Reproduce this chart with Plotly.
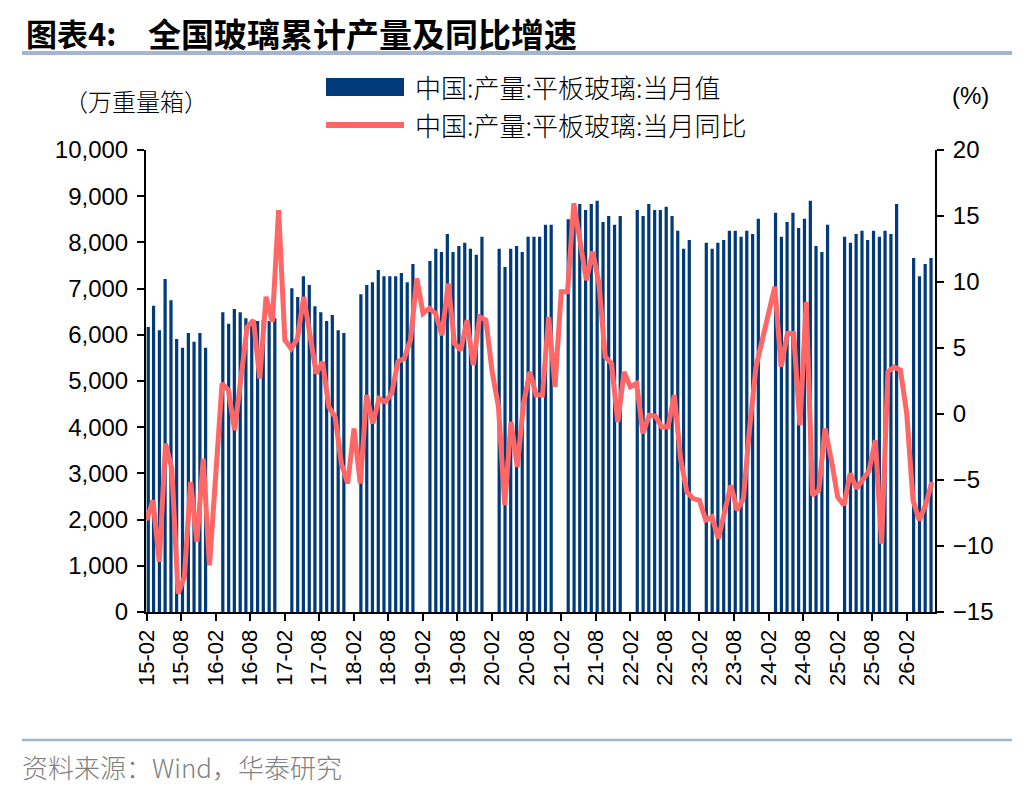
import pandas as pd
import plotly.graph_objects as go

# 中国:产量:平板玻璃:当月值 (万重量箱)
# 2015 has Feb-Dec, 2016-2025 have Mar-Dec, 2026 has Mar-Jun
output_2015 = [6170, 6630, 6100, 7210, 6750, 5910, 5720, 6040, 5850, 6040, 5720]
output_2016 = [6490, 6240, 6560, 6490, 6360, 6320, 6300, 6320, 6300, 6360]
output_2017 = [7010, 6820, 7270, 7080, 6620, 6490, 6300, 6430, 6100, 6040]
output_2018 = [6880, 7080, 7140, 7400, 7270, 7270, 7270, 7340, 7140, 7530]
output_2019 = [7600, 7860, 7790, 8180, 7790, 7920, 7990, 7860, 7730, 8120]
output_2020 = [7860, 7470, 7860, 7920, 7790, 8120, 8120, 8120, 8380, 8380]
output_2021 = [8500, 8840, 8830, 8700, 8830, 8900, 8440, 8570, 8380, 8570]
output_2022 = [8700, 8570, 8830, 8700, 8700, 8770, 8570, 8250, 7860, 8050]
output_2023 = [7990, 7860, 7990, 8050, 8250, 8250, 8120, 8250, 8180, 8510]
output_2024 = [8640, 8120, 8440, 8640, 8310, 8510, 8900, 7920, 7790, 8380]
output_2025 = [8120, 7990, 8180, 8250, 8050, 8250, 8120, 8250, 8180, 8830]
output_2026 = [7660, 7270, 7530, 7660]

# 中国:产量:平板玻璃:当月同比 (%), Feb-Dec each year, 2026 Feb-Jun
yoy_2015 = [-8.05, -6.54, -11.21, -2.24, -4.13, -13.61, -12.35, -5.15, -9.69, -3.38, -11.46]
yoy_2016 = [-4.5, 2.31, 1.80, -1.23, 2.7, 6.61, 7.11, 2.69, 8.88, 6.98, 15.45]
yoy_2017 = [5.60, 4.96, 5.72, 8.88, 5.9, 3.07, 3.95, 0.54, -0.22, -3.76, -5.27]
yoy_2018 = [-1.10, -5.27, 1.43, -0.72, 1.17, 0.92, 1.55, 3.95, 4.21, 5.60, 10.27]
yoy_2019 = [7.62, 8.0, 7.62, 5.97, 9.89, 5.34, 4.84, 7.11, 3.70, 7.36, 7.11]
yoy_2020 = [3.2, 0.54, -6.91, -0.60, -4.01, 0.79, 3.19, 1.43, 1.43, 7.36, 2.06]
yoy_2021 = [9.26, 9.26, 15.96, 13.0, 10.14, 12.3, 9.9, 4.33, 3.83, -0.60, 3.19]
yoy_2022 = [2.06, 2.31, -1.48, -0.09, -0.15, -0.98, -0.98, 1.43, -3.4, -5.9, -6.41]
yoy_2023 = [-6.54, -8.05, -7.80, -9.44, -7.5, -5.40, -7.29, -6.41, -0.98, 3.57, 5.60]
yoy_2024 = [7.62, 9.64, 3.57, 6.10, 6.10, -0.85, 8.50, -6.16, -5.78, -1.10, -3.5]
yoy_2025 = [-6.28, -6.91, -4.51, -5.65, -5.0, -4.3, -1.99, -9.82, 3.19, 3.57, 3.32]
yoy_2026 = [0.04, -6.54, -8.05, -6.9, -5.15]

BAR_COLOR = "#003A7A"
LINE_COLOR = "#FF6666"
RULE_COLOR = "#A3B6CF"
NUM_FONT = "Liberation Sans, Arial, Noto Sans CJK SC"
CJK_FONT = "Noto Sans CJK SC, Liberation Sans"


def months(year, first, last):
    return [f"{year}-{m:02d}" for m in range(first, last + 1)]


bar_months = months(2015, 2, 12)
bar_values = list(output_2015)
yearly_out = [output_2016, output_2017, output_2018, output_2019, output_2020,
              output_2021, output_2022, output_2023, output_2024, output_2025]
for yr, vals in zip(range(2016, 2026), yearly_out):
    bar_months += months(yr, 3, 12)
    bar_values += vals
bar_months += months(2026, 3, 6)
bar_values += output_2026
bar_dates = pd.to_datetime(bar_months) + pd.Timedelta(days=8)

line_months = months(2015, 2, 12)
line_values = list(yoy_2015)
yearly_yoy = [yoy_2016, yoy_2017, yoy_2018, yoy_2019, yoy_2020,
              yoy_2021, yoy_2022, yoy_2023, yoy_2024, yoy_2025]
for yr, vals in zip(range(2016, 2026), yearly_yoy):
    line_months += months(yr, 2, 12)
    line_values += vals
line_months += months(2026, 2, 6)
line_values += yoy_2026

# the page body adds an 8px margin, so the figure is a bit smaller and offset
OFF = 8
W, H = 1036 - 2 * OFF, 792 - 2 * OFF
# plot area in page pixels
L, R, T, B = 146, 935, 150, 612


def px(x):
    return (x - L) / (R - L)


def py(y):
    return (B - y) / (B - T)


fig = go.Figure()
fig.add_trace(go.Bar(x=bar_dates, y=bar_values, marker_color=BAR_COLOR,
                     marker_line_width=0, width=17 * 86400000,
                     name="中国:产量:平板玻璃:当月值"))
fig.add_trace(go.Scatter(x=line_months, y=line_values, mode="lines",
                         line=dict(color=LINE_COLOR, width=5),
                         xaxis="x2", yaxis="y2",
                         name="中国:产量:平板玻璃:当月同比"))

axis_common = dict(showline=True, linecolor="black", linewidth=2,
                   ticks="outside", ticklen=7, tickwidth=2, tickcolor="black",
                   showgrid=False, zeroline=False)

fig.update_layout(
    width=W, height=H,
    margin=dict(l=L - OFF, r=W + OFF - R, t=T - OFF, b=H + OFF - B),
    plot_bgcolor="white", paper_bgcolor="white",
    showlegend=False,
    font=dict(family=NUM_FONT, color="black"),
    xaxis=dict(type="date", range=["2015-01-28", "2026-06-30"],
               tick0="2015-02-01", dtick="M6", tickformat="%y-%m",
               tickangle=-90, tickfont=dict(size=22), **axis_common),
    xaxis2=dict(type="category", overlaying="x", visible=False,
                range=[-0.11, 125.5]),
    yaxis=dict(range=[0, 10000], dtick=1000, tickformat=",d",
               tickfont=dict(size=24), ticklabelstandoff=4, **axis_common),
    yaxis2=dict(range=[-15, 20], dtick=5, overlaying="y", side="right",
                anchor="x", tickfont=dict(size=24), ticklabelstandoff=4,
                **axis_common),
)

shapes = [
    dict(type="line", xref="paper", yref="paper", x0=px(22), x1=px(1012),
         y0=py(53), y1=py(53), line=dict(color=RULE_COLOR, width=4)),
    dict(type="line", xref="paper", yref="paper", x0=px(22), x1=px(1012),
         y0=py(740), y1=py(740), line=dict(color=RULE_COLOR, width=2.5)),
    dict(type="rect", xref="paper", yref="paper", x0=px(326), x1=px(404),
         y0=py(96), y1=py(78), fillcolor=BAR_COLOR, line=dict(width=0)),
    dict(type="line", xref="paper", yref="paper", x0=px(326), x1=px(404),
         y0=py(125), y1=py(125), line=dict(color=LINE_COLOR, width=6)),
]
fig.update_layout(shapes=shapes)


def note(text, x, y, size, anchor="left", color="black", family=CJK_FONT,
         weight=None):
    f = dict(size=size, color=color, family=family)
    if weight:
        f["weight"] = weight
    fig.add_annotation(text=text, x=px(x), y=py(y), xref="paper", yref="paper",
                       xanchor=anchor, yanchor="middle", showarrow=False,
                       font=f)


note("<b>图表4:</b>", 24, 33, 31)
note("<b>全国玻璃累计产量及同比增速</b>", 146, 33, 33)
note("中国:产量:平板玻璃:当月值", 413, 87, 26, weight=300)
note("中国:产量:平板玻璃:当月同比", 413, 125, 26, weight=300)
note("（万重量箱）", 62, 100, 24, weight=300)
note("(%)", 991, 95, 24, anchor="right", family=NUM_FONT)
note("资料来源：Wind，华泰研究", 20, 766, 26, color="#808080", weight=300)

fig.write_html("out.html")
